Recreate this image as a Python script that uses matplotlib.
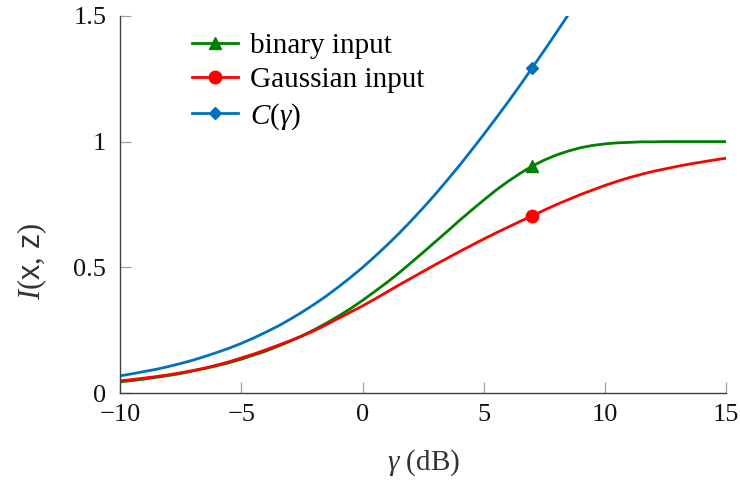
import matplotlib
matplotlib.use('agg')
import matplotlib.pyplot as plt

plt.rcParams['font.family'] = ['Liberation Serif', 'DejaVu Serif']
plt.rcParams['mathtext.fontset'] = 'custom'
plt.rcParams['mathtext.rm'] = 'Liberation Serif'
plt.rcParams['mathtext.it'] = 'Liberation Serif:italic'
plt.rcParams['mathtext.sf'] = 'Liberation Sans'

# SNR grid in dB (half-dB steps)
snr_db = [-10, -9.5, -9, -8.5, -8, -7.5, -7, -6.5, -6, -5.5, -5, -4.5, -4,
          -3.5, -3, -2.5, -2, -1.5, -1, -0.5, 0, 0.5, 1, 1.5, 2, 2.5, 3, 3.5,
          4, 4.5, 5, 5.5, 6, 6.5, 7, 7.5, 8, 8.5, 9, 9.5, 10, 10.5, 11, 11.5,
          12, 12.5, 13, 13.5, 14, 14.5, 15]
binary_input = [0.045, 0.050, 0.056, 0.063, 0.070, 0.078, 0.088, 0.098, 0.109,
                0.121, 0.135, 0.151, 0.167, 0.186, 0.206, 0.228, 0.252, 0.278,
                0.306, 0.336, 0.369, 0.404, 0.440, 0.478, 0.519, 0.560, 0.602,
                0.644, 0.687, 0.728, 0.768, 0.807, 0.842, 0.874, 0.903, 0.927,
                0.947, 0.963, 0.976, 0.985, 0.991, 0.995, 0.997, 0.999, 0.999,
                1.0, 1.0, 1.0, 1.0, 1.0, 1.0]
gaussian_input = [0.049, 0.054, 0.060, 0.066, 0.073, 0.081, 0.090, 0.100, 0.112,
                  0.125, 0.140, 0.155, 0.172, 0.190, 0.208, 0.227, 0.248, 0.272,
                  0.297, 0.322, 0.347, 0.374, 0.402, 0.430, 0.457, 0.484, 0.511,
                  0.537, 0.563, 0.588, 0.613, 0.637, 0.660, 0.683, 0.705, 0.728,
                  0.750, 0.770, 0.790, 0.808, 0.826, 0.842, 0.857, 0.870, 0.882,
                  0.892, 0.902, 0.911, 0.919, 0.927, 0.934]
cap_db = [-10, -9.5, -9, -8.5, -8, -7.5, -7, -6.5, -6, -5.5, -5, -4.5, -4,
          -3.5, -3, -2.5, -2, -1.5, -1, -0.5, 0, 0.5, 1, 1.5, 2, 2.5, 3, 3.5,
          4, 4.5, 5, 5.5, 6, 6.5, 7, 7.5, 8, 8.5]
capacity = [0.069, 0.077, 0.086, 0.095, 0.106, 0.118, 0.131, 0.146, 0.162,
            0.179, 0.198, 0.219, 0.242, 0.266, 0.293, 0.322, 0.353, 0.386,
            0.422, 0.460, 0.500, 0.543, 0.588, 0.635, 0.685, 0.737, 0.791,
            0.848, 0.906, 0.967, 1.029, 1.093, 1.158, 1.225, 1.294, 1.364,
            1.435, 1.507]

x_ticks = [-10, -5, 0, 5, 10, 15]
y_ticks = [0, 0.5, 1, 1.5]
y_ticklabels = ['0', '0.5', '1', '1.5']

fig = plt.figure(figsize=(7.4, 4.8), dpi=100)
ax = fig.add_axes([0.1625, 0.181, 0.819, 0.786])

mark_s = snr_db.index(7)
mark_c = cap_db.index(7)
ax.plot(snr_db, binary_input, color='#008000', lw=2.0, marker='^', ms=9,
        markevery=[mark_s], label='binary input')
ax.plot(snr_db, gaussian_input, color='#ff0000', lw=2.0, marker='o', ms=9,
        markevery=[mark_s], label='Gaussian input')
ax.plot(cap_db, capacity, color='#0072bd', lw=2.0, marker='D', ms=6,
        markevery=[mark_c], label=r'$C(\gamma)$')

ax.set_xlim(-10, 15)
ax.set_ylim(0, 1.5)
ax.set_xticks(x_ticks)
ax.set_yticks(y_ticks)
ax.set_yticklabels(y_ticklabels)

for s in ['top', 'right']:
    ax.spines[s].set_visible(False)
for s in ['left', 'bottom']:
    ax.spines[s].set_color('#404040')
    ax.spines[s].set_linewidth(1.0)
ax.tick_params(direction='in', length=8, width=0.9, color='#a0a0a0',
               labelsize=19, labelcolor='#111111')
ax.tick_params(axis='x', pad=8)
ax.tick_params(axis='y', pad=10)

ax.set_xlabel(r'$\gamma$ (dB)', fontsize=21, color='#333333', labelpad=15)
ax.set_ylabel(r'$I(\mathsf{x},\,\mathsf{z})$', fontsize=22, color='#333333')
ax.yaxis.set_label_coords(-0.118, 0.35)

ax.legend(loc='upper left', bbox_to_anchor=(0.108, 0.97), frameon=False,
          fontsize=21, handlelength=1.6, handletextpad=0.4, labelspacing=0.26,
          borderaxespad=0.0, borderpad=0.2)

plt.savefig('out.png', dpi=100)
